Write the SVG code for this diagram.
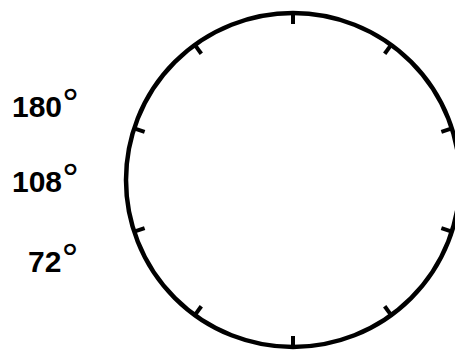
<svg xmlns="http://www.w3.org/2000/svg" xmlns:xlink="http://www.w3.org/1999/xlink" width="455" height="351" viewBox="0 0 455 351">
  <style>
    .ring { fill: none; stroke: #000; stroke-width: 4.5; }
    .tick { stroke: #000; stroke-width: 4; }
    .lbl { font-family: "Liberation Sans", Arial, sans-serif; font-weight: bold; font-size: 30px; fill: #000; }
    .deg { font-family: "DejaVu Sans", sans-serif; font-weight: normal; font-size: 38px; }
  </style>
  <defs>
    <line id="tk" class="tick" x1="0" y1="-167" x2="0" y2="-156"/>
  </defs>
  <rect width="455" height="351" fill="#fff"/>
  <g id="dial" transform="translate(293,180)">
    <circle class="ring" cx="0" cy="0" r="167"/>
    <use xlink:href="#tk" transform="rotate(0)"/>
    <use xlink:href="#tk" transform="rotate(36)"/>
    <use xlink:href="#tk" transform="rotate(72)"/>
    <use xlink:href="#tk" transform="rotate(108)"/>
    <use xlink:href="#tk" transform="rotate(144)"/>
    <use xlink:href="#tk" transform="rotate(180)"/>
    <use xlink:href="#tk" transform="rotate(216)"/>
    <use xlink:href="#tk" transform="rotate(252)"/>
    <use xlink:href="#tk" transform="rotate(288)"/>
    <use xlink:href="#tk" transform="rotate(324)"/>
  </g>
  <g id="label-180"><text class="lbl" x="12" y="116.5">180<tspan class="deg" dx="-1" dy="-1">°</tspan></text></g>
  <g id="label-108"><text class="lbl" x="12" y="191.5">108<tspan class="deg" dx="-1" dy="-1">°</tspan></text></g>
  <g id="label-72"><text class="lbl" x="28" y="271.5">72<tspan class="deg" dx="-1" dy="-1">°</tspan></text></g>
</svg>
